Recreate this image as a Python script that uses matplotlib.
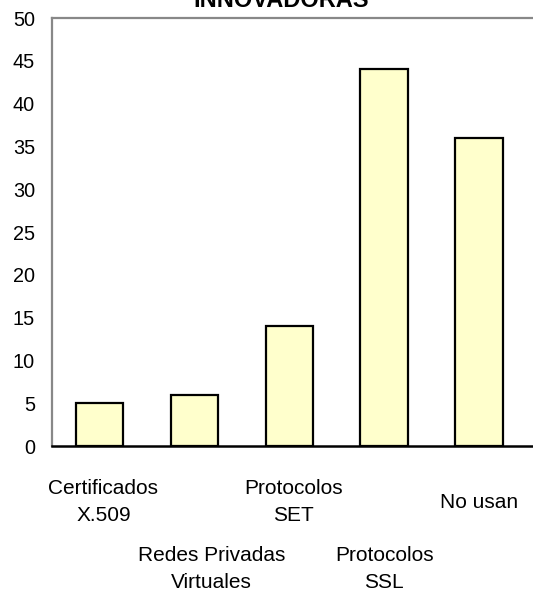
import matplotlib
matplotlib.use("Agg")
import matplotlib.pyplot as plt
import matplotlib.transforms as mtransforms

categories = ["Certificados\nX.509", "Redes Privadas\nVirtuales", "Protocolos\nSET",
              "Protocolos\nSSL", "No usan"]
values = [5, 6, 14, 44, 36]
yticks = [0, 5, 10, 15, 20, 25, 30, 35, 40, 45, 50]
title = "INNOVADORAS"

plt.rcParams['font.family'] = ['Liberation Sans', 'DejaVu Sans']

W, H = 533, 592
fig = plt.figure(figsize=(W / 100, H / 100), dpi=100)
ax = fig.add_axes([52 / W, 1 - 446 / H, 1 - 52 / W, (446 - 18) / H])

x = list(range(len(categories)))
ax.bar(x, values, width=0.5, color="#FFFFCC", edgecolor="black", linewidth=1.6, zorder=3)

ax.set_xlim(-0.5, 4.568)
ax.set_ylim(0, 50)
ax.set_yticks(yticks)
ax.set_yticklabels([str(t) for t in yticks], fontsize=14.3)
ax.tick_params(axis='y', length=0, pad=12.3)
ax.set_xticks([])

for side in ["left", "top"]:
    ax.spines[side].set_color("#888888")
    ax.spines[side].set_linewidth(1.6)
ax.spines["right"].set_visible(False)
ax.spines["bottom"].set_color("black")
ax.spines["bottom"].set_linewidth(1.8)

# staggered category labels
blend = mtransforms.blended_transform_factory(ax.transData, fig.transFigure)
offsets_px = [4, 17, 4, 0, 0]
levels = [1 - 502 / H, 1 - 569 / H]
for i, lab in enumerate(categories):
    tr = blend + mtransforms.ScaledTranslation(offsets_px[i] / 100, 0, fig.dpi_scale_trans)
    ax.text(i, levels[i % 2], lab, transform=tr, ha="center", va="center",
            fontsize=15, linespacing=1.55, multialignment="center")

fig.text(281 / W, 1 - 7 / H, title, ha="center", va="baseline",
         fontsize=17, fontweight="bold")

fig.savefig("out.png", dpi=100)
